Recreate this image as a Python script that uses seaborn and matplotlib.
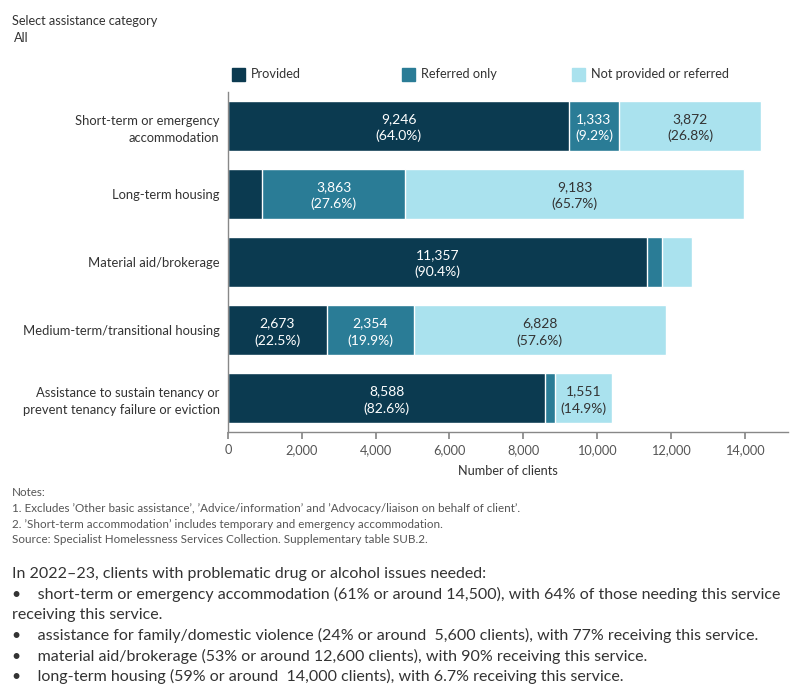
import numpy as np
import pandas as pd
import seaborn as sns
import matplotlib.pyplot as plt
from matplotlib.patches import Rectangle

# donnees
categories = [
    "Short-term or emergency\naccommodation",
    "Long-term housing",
    "Material aid/brokerage",
    "Medium-term/transitional housing",
    "Assistance to sustain tenancy or\nprevent tenancy failure or eviction",
]
provided = [9246, 931, 11357, 2673, 8588]
referred = [1333, 3863, 400, 2354, 258]
not_provided = [3872, 9183, 806, 6828, 1551]
series_names = ["Provided", "Referred only", "Not provided or referred"]
colors = ["#0b3a50", "#2a7c96", "#aae2ee"]
xticks = [0, 2000, 4000, 6000, 8000, 10000, 12000, 14000]

sns.set_theme(style="white")
plt.rcParams["font.family"] = ["Lato", "DejaVu Sans"]

df = pd.DataFrame({"cat": categories, "p": provided, "r": referred, "n": not_provided})
df["total"] = df.p + df.r + df.n
df["pr"] = df.p + df.r

fig = plt.figure(figsize=(8, 7), dpi=100)
ax = fig.add_axes([0.285, 0.383, 0.700, 0.486])

# barres empilees: on dessine les cumuls du plus grand au plus petit
for col, c in zip(["total", "pr", "p"], colors[::-1]):
    sns.barplot(data=df, y="cat", x=col, color=c, orient="h", width=0.74,
                saturation=1, ax=ax, order=categories)

# etiquettes dans les barres
for i, row in df.iterrows():
    segs = [(0, row.p), (row.p, row.r), (row.pr, row.n)]
    for k, (start, w) in enumerate(segs):
        if w < 1000:
            continue
        pct = w / row.total * 100
        tc = "white" if k < 2 else "#333333"
        ax.text(start + w / 2, i + 0.03, f"{w:,.0f}\n({pct:.1f}%)", ha="center", va="center",
                color=tc, fontsize=10, linespacing=1.45)

ax.set_xlim(0, 15170)
ax.set_ylim(4.5, -0.5)
ax.set_xticks(xticks)
ax.set_xticklabels([f"{t:,}" for t in xticks], color="#555555", fontsize=9.2)
ax.set_xlabel("Number of clients", fontsize=9.2, color="#333333", labelpad=6)
ax.set_ylabel("")
ax.tick_params(axis="y", labelsize=9.4, colors="#333333", length=0, pad=6)
ax.tick_params(axis="x", direction="out", length=5, color="#888888", bottom=True, pad=4)
for lab in ax.get_yticklabels():
    lab.set_horizontalalignment("right")
    lab.set_multialignment("right")
    lab.set_linespacing(1.5)
for s in ["top", "right"]:
    ax.spines[s].set_visible(False)
for s in ["left", "bottom"]:
    ax.spines[s].set_color("#888888")
    ax.spines[s].set_linewidth(1)

# legende manuelle
for x0, name, c in zip([232, 402, 572], series_names, colors):
    fig.patches.append(Rectangle((x0 / 800, 1 - 81 / 700), 13 / 800, 13 / 700,
                                 transform=fig.transFigure, color=c))
    fig.text((x0 + 19) / 800, 1 - 74.5 / 700, name, fontsize=9.2, color="#333333", va="center")

fig.text(12 / 800, 1 - 21 / 700, "Select assistance category", fontsize=9.2, color="#333333", va="center")
fig.text(14 / 800, 1 - 38 / 700, "All", fontsize=9.2, color="#333333", va="center")

notes = ["Notes:",
         "1. Excludes \u2019Other basic assistance\u2019, \u2019Advice/information\u2019 and \u2019Advocacy/liaison on behalf of client\u2019.",
         "2. \u2019Short-term accommodation\u2019 includes temporary and emergency accommodation.",
         "Source: Specialist Homelessness Services Collection. Supplementary table SUB.2."]
for k, t in enumerate(notes):
    fig.text(12 / 800, 1 - (493 + 15.5 * k) / 700, t, fontsize=8.4, color="#555555", va="center")

para = ["In 2022\u201323, clients with problematic drug or alcohol issues needed:",
        "\u2022    short-term or emergency accommodation (61% or around 14,500), with 64% of those needing this service",
        "receiving this service.",
        "\u2022    assistance for family/domestic violence (24% or around  5,600 clients), with 77% receiving this service.",
        "\u2022    material aid/brokerage (53% or around 12,600 clients), with 90% receiving this service.",
        "\u2022    long-term housing (59% or around  14,000 clients), with 6.7% receiving this service."]
for k, t in enumerate(para):
    fig.text(12 / 800, 1 - (574 + 20.5 * k) / 700, t, fontsize=11.55, color="#333333", va="center")

fig.savefig("out.png", dpi=100)
